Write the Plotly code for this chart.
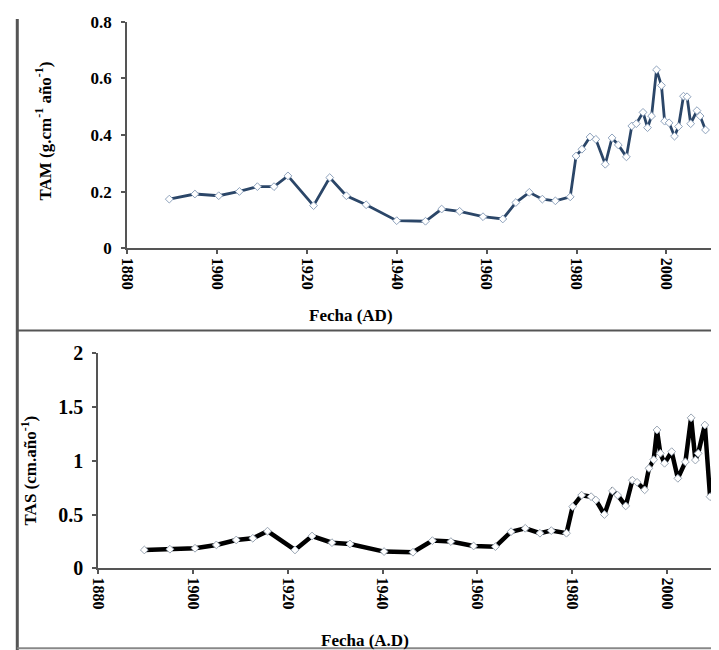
import plotly.graph_objs as go

# TAM (upper panel)
tam_years = [1889.4, 1895.1, 1900.4, 1905.0, 1909.0, 1912.7, 1915.8, 1921.5, 1925.1, 1928.8,
             1933.2, 1940.0, 1946.4, 1950.0, 1954.0, 1959.2, 1963.6, 1966.5, 1969.5, 1972.4,
             1975.3, 1978.6, 1979.9, 1981.2, 1983.0, 1984.3, 1986.4, 1987.9, 1989.3, 1991.1,
             1992.3, 1993.3, 1994.8, 1995.8, 1996.7, 1997.8, 1998.9, 1999.6, 2000.6, 2001.8,
             2002.7, 2003.8, 2004.6, 2005.4, 2006.8, 2007.5, 2008.7]
tam_values = [0.174, 0.192, 0.186, 0.201, 0.218, 0.218, 0.256, 0.151, 0.250, 0.186,
              0.154, 0.098, 0.096, 0.139, 0.131, 0.112, 0.104, 0.162, 0.198, 0.174,
              0.168, 0.182, 0.326, 0.350, 0.393, 0.385, 0.297, 0.390, 0.365, 0.323,
              0.432, 0.440, 0.480, 0.426, 0.467, 0.630, 0.575, 0.449, 0.443, 0.396,
              0.430, 0.537, 0.535, 0.440, 0.486, 0.467, 0.418]

# TAS (lower panel)
tas_years = [1889.7, 1895.1, 1900.4, 1904.9, 1909.1, 1912.6, 1915.7, 1921.5, 1925.1, 1929.3,
             1933.1, 1940.3, 1946.4, 1950.5, 1954.4, 1959.2, 1963.8, 1967.1, 1970.1, 1973.2,
             1975.6, 1978.8, 1980.1, 1982.0, 1984.0, 1985.0, 1986.8, 1988.5, 1989.6, 1991.3,
             1992.7, 1993.7, 1995.3, 1996.2, 1997.2, 1997.9, 1998.6, 1999.5, 2001.0, 2002.3,
             2003.9, 2005.1, 2006.0, 2006.6, 2008.0, 2009.1]
tas_values = [0.170, 0.177, 0.186, 0.217, 0.263, 0.279, 0.345, 0.170, 0.300, 0.238,
              0.226, 0.155, 0.149, 0.257, 0.248, 0.207, 0.201, 0.340, 0.372, 0.326,
              0.350, 0.326, 0.573, 0.680, 0.666, 0.635, 0.500, 0.720, 0.680, 0.580,
              0.820, 0.800, 0.730, 0.930, 1.010, 1.287, 1.070, 0.977, 1.085, 0.837,
              0.990, 1.400, 1.007, 1.070, 1.333, 0.666]

x_ticks = [1880, 1900, 1920, 1940, 1960, 1980, 2000]
tam_ticks = [0, 0.2, 0.4, 0.6, 0.8]
tam_labels = ['0', '0.2', '0.4', '0.6', '0.8']
tas_ticks = [0, 0.5, 1, 1.5, 2]
tas_labels = ['0', '0.5', '1', '1.5', '2']

# figure size and the offset/scale the page photo showed (measured on earlier runs)
W, H = 708, 653
OX, OY, SY = 10.7, 19.0, 0.967
serif = 'Liberation Serif'


# helpers: wanted pixel in the photo -> paper fraction
def px_x(p):
    return min(1, max(0, (p - OX) / W))


def px_y(p):
    return min(1, max(0, 1 - (p / SY - OY) / H))


tam_trace = go.Scatter(
    x=tam_years, y=tam_values, mode='lines+markers',
    line=dict(color='#2b4668', width=2.8),
    marker=dict(symbol='diamond', size=6, color='white',
                line=dict(color='#8fa3bd', width=1)),
    xaxis='x', yaxis='y', showlegend=False, cliponaxis=False
)

tas_trace = go.Scatter(
    x=tas_years, y=tas_values, mode='lines+markers',
    line=dict(color='black', width=4.5),
    marker=dict(symbol='diamond', size=6, color='white',
                line=dict(color='#9aa6b4', width=1)),
    xaxis='x2', yaxis='y2', showlegend=False, cliponaxis=False
)

axis_common = dict(showgrid=False, zeroline=False, showline=True,
                   linecolor='#555555', linewidth=2, ticks='outside',
                   ticklen=4, tickcolor='#555555', tickwidth=2)

layout = go.Layout(
    width=W, height=H,
    margin=dict(l=0, r=0, t=0, b=0),
    plot_bgcolor='white', paper_bgcolor='white',
    font=dict(family=serif, color='black'),
    xaxis=dict(domain=[px_x(123), px_x(714)], range=[1880, 2010],
               tickvals=x_ticks, tickangle=90, anchor='y',
               tickfont=dict(family=serif, size=16, weight='bold'), **axis_common),
    yaxis=dict(domain=[px_y(248), px_y(21)], range=[0, 0.8],
               tickvals=tam_ticks, ticktext=tam_labels, anchor='x',
               ticklabelstandoff=6,
               tickfont=dict(family=serif, size=17, weight='bold'), **axis_common),
    xaxis2=dict(domain=[px_x(94), px_x(717)], range=[1880, 2010],
                tickvals=x_ticks, tickangle=90, anchor='y2',
                tickfont=dict(family=serif, size=16, weight='bold'), **axis_common),
    yaxis2=dict(domain=[px_y(568), px_y(353)], range=[0, 2],
                tickvals=tas_ticks, ticktext=tas_labels, anchor='x2',
                ticklabelstandoff=5,
                tickfont=dict(family=serif, size=20, weight='bold'), **axis_common),
    annotations=[
        dict(text='TAM (g.cm<sup>-1</sup> año<sup>-1</sup>)', textangle=-90,
             x=px_x(38), y=px_y(130), xref='paper', yref='paper', showarrow=False,
             xanchor='center', yanchor='middle',
             font=dict(family=serif, size=17, weight='bold')),
        dict(text='Fecha (AD)', x=px_x(350), y=px_y(315), xref='paper', yref='paper',
             showarrow=False, xanchor='center', yanchor='middle',
             font=dict(family=serif, size=17, weight='bold')),
        dict(text='TAS (cm.año<sup>-1</sup>)', textangle=-90,
             x=px_x(24), y=px_y(470), xref='paper', yref='paper', showarrow=False,
             xanchor='center', yanchor='middle',
             font=dict(family=serif, size=17, weight='bold')),
        dict(text='Fecha (A.D)', x=px_x(364), y=px_y(640), xref='paper', yref='paper',
             showarrow=False, xanchor='center', yanchor='middle',
             font=dict(family=serif, size=17, weight='bold')),
    ],
    shapes=[
        # frame around the two panels
        dict(type='line', xref='paper', yref='paper', x0=px_x(12), x1=px_x(12), y0=1, y1=0,
             line=dict(color='#555555', width=3)),
        dict(type='line', xref='paper', yref='paper', x0=px_x(12), x1=1, y0=px_y(330), y1=px_y(330),
             line=dict(color='#555555', width=2)),
        dict(type='line', xref='paper', yref='paper', x0=px_x(12), x1=1, y0=px_y(648), y1=px_y(648),
             line=dict(color='#888888', width=2)),
    ]
)

fig = go.Figure(data=[tam_trace, tas_trace], layout=layout)
fig.write_html("out.html")
